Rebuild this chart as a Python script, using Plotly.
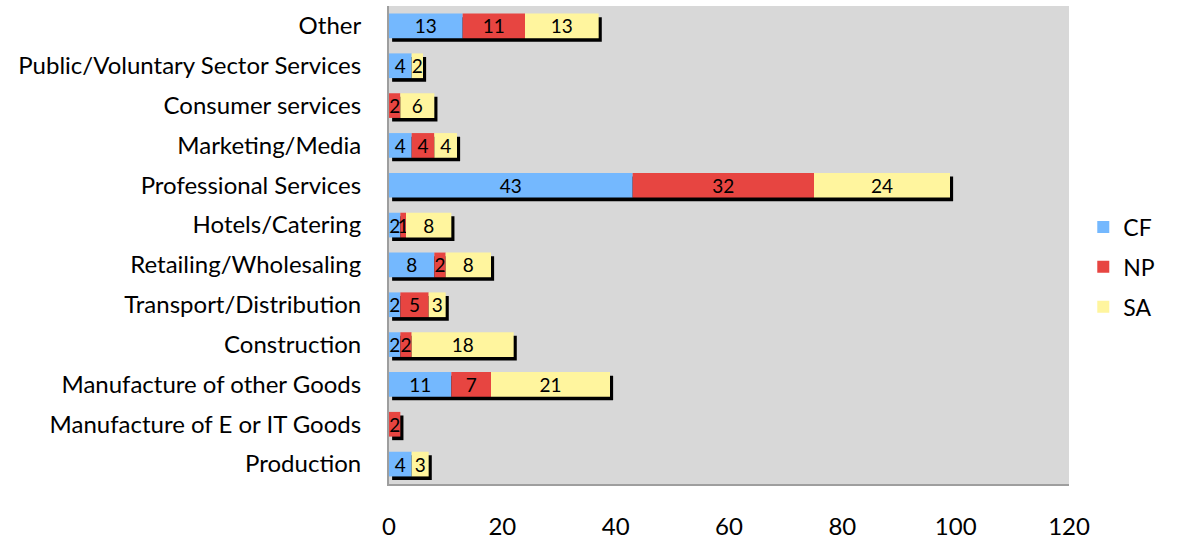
import plotly.graph_objects as go

categories = ["Production", "Manufacture of E or IT Goods", "Manufacture of other Goods",
              "Construction", "Transport/Distribution", "Retailing/Wholesaling",
              "Hotels/Catering", "Professional Services", "Marketing/Media",
              "Consumer services", "Public/Voluntary Sector Services", "Other"]
cf = [4, 0, 11, 2, 2, 8, 2, 43, 4, 0, 4, 13]
np_ = [0, 2, 7, 2, 5, 2, 1, 32, 4, 2, 0, 11]
sa = [3, 0, 21, 18, 3, 8, 8, 24, 4, 6, 2, 13]
x_ticks = [0, 20, 40, 60, 80, 100, 120]

colors = {"CF": "#74B8FE", "NP": "#E74541", "SA": "#FFF59E"}
FONT = "Lato"

totals = [a + b + c for a, b, c in zip(cf, np_, sa)]
base_np = cf
base_sa = [a + b for a, b in zip(cf, np_)]

W = 0.62
fig = go.Figure()

# drop shadow beneath each full bar
fig.add_trace(go.Bar(
    y=categories, x=totals, base=[0.55] * len(totals), orientation="h",
    marker=dict(color="black", line=dict(width=0)),
    width=W, offset=-W / 2 - 0.09, showlegend=False, hoverinfo="skip"))

def lab(vals):
    return [str(v) if v else "" for v in vals]

for name, vals, base in [("CF", cf, [0] * len(cf)), ("NP", np_, base_np), ("SA", sa, base_sa)]:
    fig.add_trace(go.Bar(
        y=categories, x=vals, base=base, orientation="h", name=name,
        marker=dict(color=colors[name], line=dict(width=0)),
        width=W, offset=-W / 2,
        text=lab(vals), textposition="inside", insidetextanchor="middle",
        constraintext="none", textangle=0,
        textfont=dict(family=FONT, size=19, color="black"),
        legendgroup=name))

fig.update_layout(
    width=1185, height=541,
    barmode="overlay",
    margin=dict(l=389, r=116, t=6, b=57),
    paper_bgcolor="white", plot_bgcolor="#D8D8D8",
    font=dict(family=FONT, size=24, color="black"),
    showlegend=True,
    legend=dict(x=1.021, xanchor="left", y=0.454, yanchor="middle",
                traceorder="grouped", tracegroupgap=7,
                font=dict(family=FONT, size=23), itemwidth=30,
                bgcolor="rgba(0,0,0,0)"),
    xaxis=dict(range=[0, 120], tickvals=x_ticks, showgrid=False, zeroline=False,
               showline=True, linecolor="#9E9E9E", linewidth=2,
               ticks="", ticklabelstandoff=20, automargin=False,
               tickfont=dict(family=FONT, size=24)),
    yaxis=dict(categoryorder="array", categoryarray=categories, showgrid=False,
               showline=True, linecolor="#9E9E9E", linewidth=2, ticks="",
               ticklabelstandoff=21, automargin=False,
               tickfont=dict(family=FONT, size=24)),
)

fig.write_html("out.html", config={"displayModeBar": False},
               post_script="document.body.style.margin='0';")
